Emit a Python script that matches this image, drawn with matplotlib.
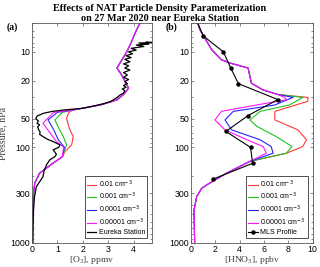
import matplotlib
matplotlib.use("Agg")
import matplotlib.pyplot as plt
import numpy as np
from matplotlib.ticker import FixedLocator, FixedFormatter, LogLocator, NullFormatter

# ---- O3 panel data (pressure hPa, ppmv) ----
o3_top_p = [5, 6, 8, 10, 12, 14.8, 17, 20.5, 24, 28, 31.8, 34, 36, 38, 40.6]
o3_top_v = [4.25, 4.1, 3.9, 3.73, 3.55, 3.34, 3.5, 3.66, 3.8, 3.6, 3.34, 3.0, 2.68, 2.2, 1.62]
o3_bot_p = [146, 186, 237, 326, 500, 1000]
o3_bot_v = [0.83, 0.30, 0.107, 0.045, 0.035, 0.03]

o3_red_p = [43, 49.5, 57, 65.6, 77, 94, 110, 125]
o3_red_v = [1.45, 1.36, 1.42, 1.49, 1.62, 1.56, 1.3, 1.2]
o3_grn_p = [43, 51.6, 65, 77, 94, 110, 125]
o3_grn_v = [1.2, 0.9, 1.08, 1.23, 1.36, 1.26, 1.2]
o3_blu_p = [43, 51.6, 65, 83, 100, 110, 125]
o3_blu_v = [1.0, 0.63, 0.85, 1.03, 1.28, 1.24, 1.2]
o3_mag_p = [43, 55.8, 70, 87, 100, 110, 125]
o3_mag_v = [0.85, 0.43, 0.7, 0.96, 1.25, 1.22, 1.2]

sonde_p = [7.9, 8.0, 8.1, 8.3, 8.5, 8.8, 9.2, 9.6, 10.0, 10.5, 11, 11.5, 12, 12.7,
           13.4, 14, 14.8, 15.5, 16.5, 17.5, 18.5, 19.5, 20.5, 21.5, 22.5, 23.5,
           24.5, 25.5, 27, 28.5, 30, 31.8, 33, 35, 37, 39, 40.5, 42, 44, 47, 50,
           53, 56, 58, 61, 65, 69, 73, 77, 82, 87, 94, 100, 106, 112, 118, 125,
           135, 152, 175, 203, 258, 326, 450, 620, 1000]
sonde_v = [4.5, 4.8, 4.2, 4.6, 4.1, 4.4, 3.9, 4.1, 3.8, 3.95, 3.7, 3.9, 3.65, 3.85,
           3.6, 3.8, 3.65, 3.85, 3.6, 3.75, 3.6, 3.8, 3.65, 3.75, 3.6, 3.7,
           3.55, 3.65, 3.6, 3.45, 3.35, 3.2, 3.1, 2.8, 2.4, 2.0, 1.3, 0.8, 0.45, 0.2, 0.15,
           0.25, 0.2, 0.3, 0.22, 0.26, 0.32, 0.3, 0.43, 0.6, 0.83, 1.1, 1.05, 0.83, 0.9,
           0.96, 0.9, 0.7, 0.57, 0.48, 0.43, 0.17, 0.1, 0.06, 0.04, 0.02]

# ---- HNO3 panel data (pressure hPa, ppbv) ----
hno3_top_p = [5, 5.9, 9.5, 12.1, 13.1, 14.8, 21.3, 25, 28]
hno3_top_v = [0.55, 0.74, 1.7, 2.5, 3.2, 4.7, 4.97, 5.9, 7.15]
hno3_bot_p = [140, 186, 247, 268, 326, 450, 1000]
hno3_bot_v = [4.85, 2.93, 1.29, 0.88, 0.47, 0.25, 0.3]

hno3_red_p = [30, 33, 42, 51.6, 65.6, 83, 98, 115]
hno3_red_v = [9.64, 9.6, 6.9, 6.9, 8.8, 9.5, 9.2, 7.86]
hno3_grn_p = [30, 36, 42, 51.6, 60, 77, 90, 98, 115]
hno3_grn_v = [9.2, 8.1, 5.7, 4.85, 5.4, 7.0, 7.86, 8.3, 7.86]
hno3_blu_p = [30, 36, 42, 51.6, 65.6, 83, 98, 115]
hno3_blu_v = [8.4, 6.9, 3.48, 2.8, 3.34, 5.67, 6.6, 6.76]
hno3_mag_p = [30, 31.8, 36, 42, 51.6, 65.6, 83, 98, 115]
hno3_mag_v = [7.7, 7.86, 5.4, 2.5, 1.97, 2.8, 4.58, 5.94, 6.2]

mls_p = [4.64, 6.81, 10.0, 14.68, 21.54, 31.62, 46.42, 68.13, 100.0, 146.78, 215.44]
mls_v = [0.45, 1.0, 2.66, 3.26, 3.9, 7.15, 4.7, 2.87, 4.9, 5.07, 1.78]

labels = ["0.01 cm$^{-3}$", "0.001 cm$^{-3}$", "0.0001 cm$^{-3}$", "0.00001 cm$^{-3}$"]
colors = ["#ff3a3a", "#1fc41f", "#2525ff", "#ff14ff"]

plt.rcParams['font.family'] = ['Liberation Sans', 'DejaVu Sans']
plt.rcParams['mathtext.fontset'] = 'dejavusans'
serif = 'Liberation Serif'


def join(top_p, top_v, mid_p, mid_v, bot_p, bot_v):
    return (np.array(top_p + mid_p + bot_p), np.array(top_v + mid_v + bot_v))


fig = plt.figure(figsize=(3.2, 2.67), dpi=100)
ax1 = fig.add_axes([32/320, 24/267, 120/320, 220/267])
ax2 = fig.add_axes([191/320, 24/267, 121.5/320, 220/267])

mids = [(o3_red_p, o3_red_v), (o3_grn_p, o3_grn_v), (o3_blu_p, o3_blu_v), (o3_mag_p, o3_mag_v)]
for (mp, mv), c, lab in zip(mids, colors, labels):
    p, v = join(o3_top_p, o3_top_v, mp, mv, o3_bot_p, o3_bot_v)
    ax1.plot(v, p, color=c, lw=0.8, label=lab)
ax1.plot(sonde_v, sonde_p, color='k', lw=0.9, label='Eureka Station')

mids = [(hno3_red_p, hno3_red_v), (hno3_grn_p, hno3_grn_v), (hno3_blu_p, hno3_blu_v), (hno3_mag_p, hno3_mag_v)]
for (mp, mv), c, lab in zip(mids, colors, labels):
    p, v = join(hno3_top_p, hno3_top_v, mp, mv, hno3_bot_p, hno3_bot_v)
    ax2.plot(v, p, color=c, lw=0.8, label=lab)
ax2.plot(mls_v, mls_p, color='k', lw=0.8, marker='o', ms=2.2, label='MLS Profile')

for ax, xmax, xt in [(ax1, 4.72, [0, 1, 2, 3, 4]), (ax2, 10, [0, 2, 4, 6, 8, 10])]:
    ax.set_yscale('log')
    ax.set_ylim(1000, 5)
    ax.set_xlim(0, xmax)
    ax.set_xticks(xt)
    ax.yaxis.set_major_locator(FixedLocator([10, 20, 50, 100, 300, 1000]))
    ax.yaxis.set_major_formatter(FixedFormatter(['10', '20', '50', '100', '300', '1000']))
    ax.yaxis.set_minor_locator(LogLocator(base=10, subs=np.arange(2, 10)))
    ax.yaxis.set_minor_formatter(NullFormatter())
    ax.tick_params(which='both', direction='in', top=True, right=True, labelsize=6.3,
                   color='0.35', pad=1.5, width=0.5)
    ax.tick_params(which='major', length=2.5)
    ax.tick_params(which='minor', length=1.3)
    for s in ax.spines.values():
        s.set_color('0.35')
        s.set_linewidth(0.6)
    leg = ax.legend(loc='lower right', fontsize=5.0, handlelength=1.4, handletextpad=0.3,
                    labelspacing=0.2, borderpad=0.3, borderaxespad=0.7,
                    fancybox=False, framealpha=1)
    leg.get_frame().set_edgecolor('0.2')
    leg.get_frame().set_linewidth(0.6)

ax1.set_xlabel(r'[O$_\mathregular{3}$], ppmv', family=serif, fontsize=6.8, labelpad=0, color='0.25')
ax2.set_xlabel(r'[HNO$_\mathregular{3}$], ppbv', family=serif, fontsize=6.8, labelpad=0, color='0.25')
ax1.set_ylabel('Pressure, hPa', family=serif, fontsize=7, labelpad=2, color='0.25')

fig.text(0.5, 0.985, 'Effects of NAT Particle Density Parameterization\non 27 Mar 2020 near Eureka Station',
         ha='center', va='top', family=serif, weight='bold', fontsize=7.3, linespacing=1.1)
fig.text(12/320, 1 - 27/267, '(a)', ha='center', va='center', family=serif, weight='bold', fontsize=7)
fig.text(172/320, 1 - 27/267, '(b)', ha='center', va='center', family=serif, weight='bold', fontsize=7)

fig.savefig('out.png', dpi=100)
